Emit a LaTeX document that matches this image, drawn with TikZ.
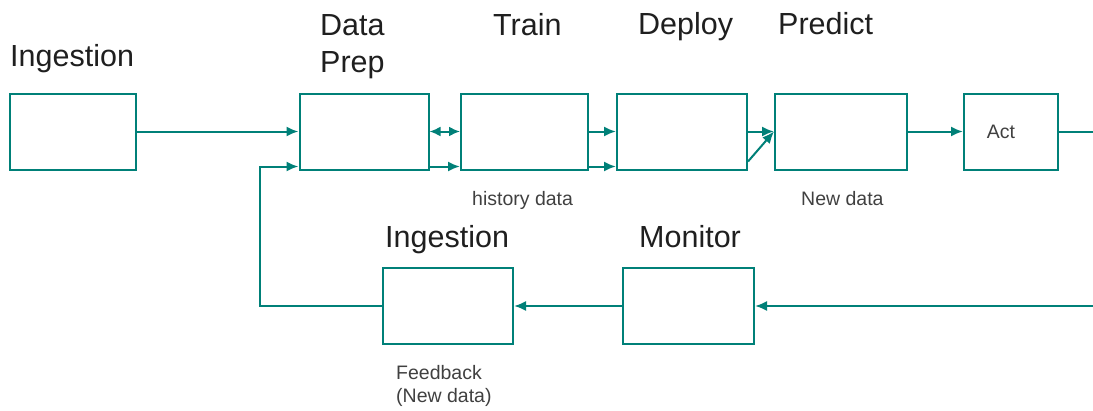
\documentclass[tikz,border=0pt]{standalone}
\usepackage{fontspec}
\setmainfont{Liberation Sans}
\usetikzlibrary{arrows.meta}
\definecolor{pipeteal}{RGB}{0,128,120}
\colorlet{labelink}{black!88}

\begin{document}
\begin{tikzpicture}[x=1pt, y=-1pt,
    stage/.style={draw=pipeteal, line width=2pt, minimum height=76pt, inner sep=0pt},
    pipe/.style={draw=pipeteal, line width=2pt},
    flow/.style={pipe, -{Latex[length=12pt,width=10pt]}},
    dflow/.style={pipe, {Latex[length=11pt,width=10pt]}-{Latex[length=11pt,width=10pt]}},
    title/.style={anchor=base west, inner sep=0pt, text=labelink, font=\fontsize{30.5}{37}\selectfont},
    note/.style={anchor=base west, inner sep=0pt, text=black!75, font=\fontsize{19.5}{22.5}\selectfont}]
  \useasboundingbox (0,0) rectangle (1093,410);

  % upper row: the training and serving pipeline
  \node[stage, minimum width=126pt] (ing1) at (73,131.5) {};
  \node[stage, minimum width=129pt] (prep) at (364,131.5) {};
  \node[stage, minimum width=127pt] (train) at (524.5,131.5) {};
  \node[stage, minimum width=130pt] (deploy) at (682,131.5) {};
  \node[stage, minimum width=132pt] (predict) at (841,131.5) {};
  \node[stage, minimum width=94pt, font=\fontsize{19.5}{22.5}\selectfont, text=black!75] (act) at (1011,131.5) {Act\hspace*{20pt}};

  % lower row: the feedback loop
  \node[stage, minimum width=130pt] (ing2) at (448,306) {};
  \node[stage, minimum width=131pt] (monitor) at (688.5,306) {};

  % stage titles and notes (base of a two-line text is its last line)
  \node[title] (ing1title) at (10,66) {Ingestion};
  \node[title, align=left] (preptitle) at (320,72) {Data\\Prep};
  \node[title] (traintitle) at (493,35) {Train};
  \node[title] (deploytitle) at (638,34) {Deploy};
  \node[title] (predicttitle) at (778,34) {Predict};
  \node[title] (ing2title) at (385,247) {Ingestion};
  \node[title] (monitortitle) at (639,247) {Monitor};
  \node[note] (histnote) at (472,205) {history data};
  \node[note] (newnote) at (801,205) {New data};
  \node[note, align=left] (fbnote) at (396,402) {Feedback\\(New data)};

  \coordinate (actout) at (1093,131.5);
  \coordinate (fbin) at (1093,306);

  \draw[flow] (ing1) -- (prep);
  \draw[dflow] (prep) -- (train);
  \draw[flow] ([yshift=4pt]prep.south east) -- ([yshift=4pt]train.south west);
  \draw[flow] (train) -- (deploy);
  \draw[flow] ([yshift=4pt]train.south east) -- ([yshift=4pt]deploy.south west);
  \draw[flow] (deploy) -- (predict);
  \draw[flow] ([yshift=9pt]deploy.south east) -- (predict.west);
  \draw[flow] (predict) -- (act);
  \draw[pipe] (act) -- (actout);
  \draw[flow] (fbin) -- (monitor);
  \draw[flow] (monitor) -- (ing2);
  \draw[flow] (ing2.west) -- ++(-122,0) |- ([yshift=4pt]prep.south west);
\end{tikzpicture}
\end{document}
